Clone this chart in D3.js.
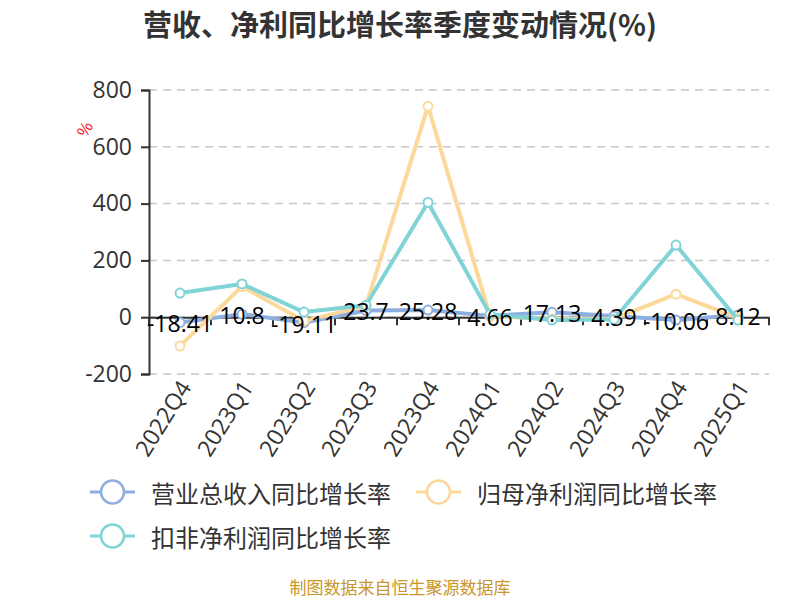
<!DOCTYPE html>
<html>
<head>
<meta charset="utf-8">
<script src="https://cdn.jsdelivr.net/npm/d3@7"></script>
<style>
  body { margin: 0; background: #fff; }
  svg { font-family: "Noto Sans CJK SC", "Noto Sans", sans-serif; }
</style>
</head>
<body>
<div id="chart"></div>
<script>
// Quartals and the three year-on-year growth series (%)
const quarters = ['2022Q4', '2023Q1', '2023Q2', '2023Q3', '2023Q4', '2024Q1', '2024Q2', '2024Q3', '2024Q4', '2025Q1'];
const revenueGrowth = [-18.41, 10.8, -19.11, 23.7, 25.28, 4.66, 17.13, 4.39, -10.06, 8.12];
const netProfitGrowth = [-101, 108, -13, 40, 743, 3, -6, -6, 81, -3];
const deductedGrowth = [85, 117, 18, 42, 404, 10, -10, -8, 254, -10];
const yTicks = [-200, 0, 200, 400, 600, 800];

const seriesNames = ['营业总收入同比增长率', '归母净利润同比增长率', '扣非净利润同比增长率'];
const seriesColors = ['#8eaee0', '#fdd89b', '#80d4d6'];

const width = 800, height = 600;
const margin = { top: 90, right: 31, bottom: 226, left: 149 };

const svg = d3.select('#chart')
  .append('svg')
  .attr('width', width)
  .attr('height', height);

// Title
svg.append('text')
  .attr('x', 400)
  .attr('y', 23)
  .attr('text-anchor', 'middle')
  .attr('dominant-baseline', 'central')
  .attr('font-size', 29)
  .attr('font-weight', 'bold')
  .attr('fill', '#333')
  .text('营收、净利同比增长率季度变动情况(%)');

const x = d3.scaleBand()
  .domain(quarters)
  .range([margin.left, width - margin.right]);

const y = d3.scaleLinear()
  .domain([-200, 800])
  .range([height - margin.bottom, margin.top]);

// Grid lines
svg.append('g')
  .selectAll('line')
  .data(yTicks)
  .enter()
  .append('line')
  .attr('x1', margin.left)
  .attr('x2', width - margin.right)
  .attr('y1', d => y(d))
  .attr('y2', d => y(d))
  .attr('stroke', '#c8c8c8')
  .attr('stroke-width', 1.5)
  .attr('stroke-dasharray', '8,6');

// Y axis
const yAxis = svg.append('g')
  .attr('transform', `translate(${margin.left},0)`)
  .call(d3.axisLeft(y).tickValues(yTicks).tickSize(8).tickPadding(9).tickFormat(d => String(d)));
yAxis.select('.domain').attr('stroke', '#333').attr('stroke-width', 2);
yAxis.selectAll('.tick line').attr('stroke', '#333').attr('stroke-width', 2);
yAxis.selectAll('.tick text')
  .attr('font-size', 23)
  .attr('fill', '#333')
  .attr('font-family', '"Open Sans", "Noto Sans", sans-serif');

// Unit label
svg.append('text')
  .attr('transform', 'translate(90,132) rotate(-60)')
  .attr('text-anchor', 'middle')
  .attr('font-size', 16)
  .attr('fill', 'red')
  .text('%');

// X axis at zero
const xAxis = svg.append('g')
  .attr('transform', `translate(0,${y(0)})`)
  .call(d3.axisBottom(x).tickSizeOuter(0).tickSize(0).tickFormat(''));
xAxis.select('.domain').attr('stroke', '#333').attr('stroke-width', 2);

// Band boundary ticks
const boundaries = quarters.map(q => x(q)).concat([x(quarters[quarters.length - 1]) + x.bandwidth()]);
svg.append('g')
  .selectAll('line')
  .data(boundaries)
  .enter()
  .append('line')
  .attr('x1', d => d)
  .attr('x2', d => d)
  .attr('y1', y(0))
  .attr('y2', y(0) + 8)
  .attr('stroke', '#333')
  .attr('stroke-width', 2);

// Category labels below the plot, rotated
svg.append('g')
  .selectAll('text')
  .data(quarters)
  .enter()
  .append('text')
  .attr('transform', d => `translate(${x(d) + x.bandwidth() / 2 + 7},${y(-200) + 10}) rotate(-58)`)
  .attr('text-anchor', 'end')
  .attr('dominant-baseline', 'middle')
  .attr('font-size', 23)
  .attr('fill', '#333')
  .attr('font-family', '"Open Sans", "Noto Sans", sans-serif')
  .text(d => d);

// Lines
const allSeries = [revenueGrowth, netProfitGrowth, deductedGrowth];
const line = d3.line()
  .x((d, i) => x(quarters[i]) + x.bandwidth() / 2)
  .y(d => y(d));

allSeries.forEach((values, si) => {
  const g = svg.append('g');
  g.append('path')
    .datum(values)
    .attr('d', line)
    .attr('fill', 'none')
    .attr('stroke', seriesColors[si])
    .attr('stroke-width', 4)
    .attr('stroke-linejoin', 'round');
  g.selectAll('circle')
    .data(values)
    .enter()
    .append('circle')
    .attr('cx', (d, i) => x(quarters[i]) + x.bandwidth() / 2)
    .attr('cy', d => y(d))
    .attr('r', 4.5)
    .attr('fill', '#fff')
    .attr('stroke', seriesColors[si])
    .attr('stroke-width', 2);
});

// Revenue value labels
svg.append('g')
  .selectAll('text')
  .data(revenueGrowth)
  .enter()
  .append('text')
  .attr('x', (d, i) => x(quarters[i]) + x.bandwidth() / 2)
  .attr('y', d => y(d) + 1)
  .attr('text-anchor', 'middle')
  .attr('dominant-baseline', 'central')
  .attr('font-size', 23)
  .attr('fill', '#000')
  .attr('font-family', '"Open Sans", "Noto Sans", sans-serif')
  .text(d => d);

// Legend
const legendItems = [
  { name: seriesNames[0], color: seriesColors[0], x: 90, y: 492 },
  { name: seriesNames[1], color: seriesColors[1], x: 416, y: 492 },
  { name: seriesNames[2], color: seriesColors[2], x: 90, y: 536 }
];
const legend = svg.append('g');
legendItems.forEach(item => {
  const g = legend.append('g').attr('transform', `translate(${item.x},${item.y})`);
  g.append('line')
    .attr('x1', 0).attr('x2', 45)
    .attr('y1', 0).attr('y2', 0)
    .attr('stroke', item.color)
    .attr('stroke-width', 3);
  g.append('circle')
    .attr('cx', 22.5).attr('cy', 0).attr('r', 11.5)
    .attr('fill', '#fff')
    .attr('stroke', item.color)
    .attr('stroke-width', 2.5);
  g.append('text')
    .attr('x', 61)
    .attr('y', 0)
    .attr('dominant-baseline', 'central')
    .attr('font-size', 24)
    .attr('fill', '#333')
    .text(item.name);
});

// Footer source note
svg.append('text')
  .attr('x', 400)
  .attr('y', 586)
  .attr('text-anchor', 'middle')
  .attr('dominant-baseline', 'central')
  .attr('font-size', 17)
  .attr('fill', '#c9962a')
  .text('制图数据来自恒生聚源数据库');
</script>
</body>
</html>
